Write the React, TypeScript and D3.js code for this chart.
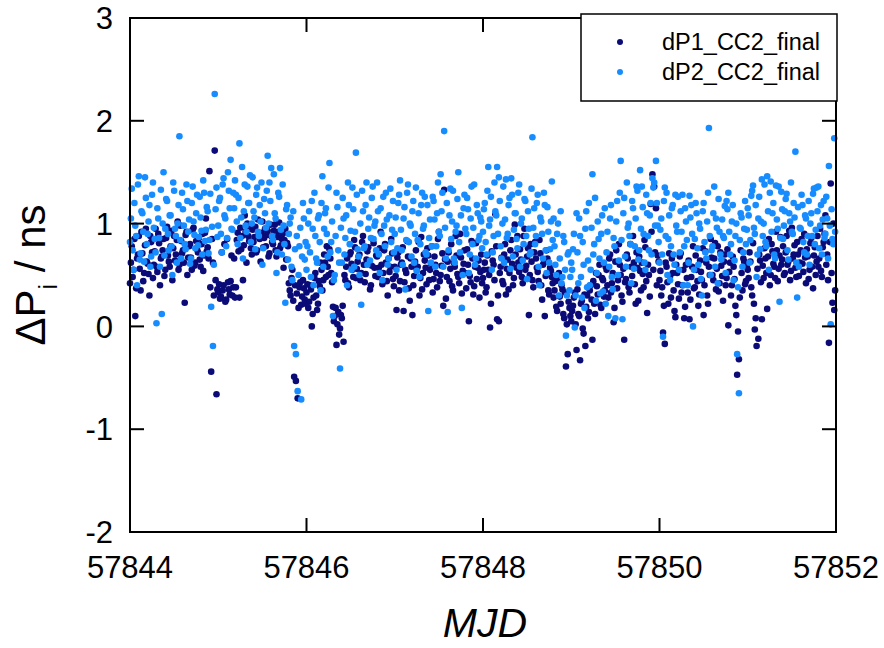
import { useEffect } from "react";
import * as d3 from "d3";

// sampling of both series (days); the *Mid arrays sit half a step later
const MJD_START = 57844;
const STEP = 0.02;

// dP1_CC2_final, one row per day (50 samples)
const dP1 = [
  0.42, 0.78, 0.55, 0.10, 0.66, 0.88, 0.35, 0.71, 0.52, 0.95, 0.61, 0.30, 0.82, 0.47, 0.73, 0.58, 0.90, 0.40, 0.68, 0.85, 0.55, 0.97, 0.63, 0.78, 0.45, 0.88, 0.70, 1.02, 0.60, 0.83, 0.74, 0.23, 0.92, 0.67, 0.80, 0.55, 0.96, 0.62, 0.75, 0.86, 0.58, 0.90, 0.69, 1.05, 0.77, 1.51, -0.44, 0.62, 1.71, -0.66,
  0.33, 0.27, 0.72, 0.40, 0.24, 0.85, 0.36, 0.44, 0.30, 0.66, 0.38, 0.91, 0.28, 0.75, 0.45, 1.08, 0.62, 0.88, 0.95, 0.70, 0.82, 0.97, 0.74, 0.90, 0.63, 1.02, 0.86, 0.78, 0.93, 0.71, 0.88, 0.80, 0.99, 0.68, 0.92, 0.76, 0.85, 0.57, 0.95, 0.81, 0.42, 0.30, 0.55, -0.49, -0.53, -0.70, 0.38, 0.21, 0.45, 0.26,
  0.33, 0.18, 0.40, 0.00, 0.28, 0.52, 0.16, 0.44, 0.62, 0.35, 0.70, 0.48, 0.58, 0.75, 0.52, 0.19, 0.10, -0.18, 0.14, -0.02, 0.08, -0.15, 0.45, 0.66, 0.38, 0.72, 0.55, 0.84, 0.47, 0.63, 0.70, 0.52, 0.88, 0.43, 0.65, 0.77, 0.36, 0.59, 0.81, 0.49, 0.68, 0.57, 0.92, 0.41, 0.74, 0.62, 0.30, 0.53, 0.85, 0.46,
  0.58, 0.16, 0.72, 0.44, 0.62, 0.15, 0.55, 0.83, 0.37, 0.66, 0.11, 0.49, 0.74, 0.58, 0.30, 0.87, 0.52, 0.64, 0.41, 0.69, 0.55, 0.78, 0.46, 0.60, 0.38, 0.92, 0.50, 0.71, 1.33, 0.27, 0.63, 0.44, 0.80, 0.35, 0.58, 0.69, 0.48, 0.90, 0.32, 0.61, 0.52, 0.75, 0.05, 0.43, 0.66, 0.39, 0.81, 0.57, 0.28, 0.70,
  0.47, 0.62, 0.38, 0.55, -0.01, 0.73, 0.60, 1.09, 0.07, 0.05, 0.58, 0.44, 0.70, 0.31, 0.65, 0.52, 0.84, 0.40, 0.99, 0.57, 0.62, 0.75, 0.48, 0.88, 0.55, 0.68, 0.11, 0.80, 0.45, 0.72, 0.66, 0.53, 0.84, 0.40, 0.60, 0.10, 0.74, 0.35, 0.57, 0.48, 0.28, 0.44, 0.15, 0.52, 0.22, 0.36, 0.08, -0.39, -0.27, 0.18,
  0.05, 0.20, 0.33, -0.23, 0.12, -0.33, 0.25, -0.07, -0.19, 0.30, 0.14, 0.40, -0.13, 0.22, 0.52, 0.31, 0.60, 0.18, 0.45, 0.35, 0.55, 0.28, 0.70, 0.42, 0.04, 0.63, 0.37, 0.80, 0.50, 0.24, -0.13, 0.46, 0.66, 0.33, 0.58, 0.88, 0.41, 0.72, 0.25, 0.54, 0.62, 0.38, 0.77, 0.13, 0.50, 1.19, 1.48, 1.36, 1.15, 0.69,
  0.45, 0.30, -0.06, -0.17, 0.58, 0.22, 0.49, 0.66, 0.35, 0.09, 0.52, 0.27, 0.71, 0.40, 0.08, 0.60, 0.33, 0.07, 0.48, 0.78, 0.38, 0.55, 0.20, 0.64, 0.45, 0.11, 0.73, 0.30, 0.58, 0.85, 0.50, 0.66, 0.36, 0.78, 0.42, 0.59, 0.25, 0.70, 0.47, 0.01, 0.62, 0.40, 0.58, 0.20, -0.47, -0.32, 0.74, 0.35, 0.63, 0.44,
  0.55, 0.72, 0.38, 0.81, -0.03, -0.19, -0.12, 0.64, 0.07, 0.47, 0.66, 0.17, 0.85, 0.50, 0.73, 0.58, 0.92, 0.44, 0.69, 0.60, 0.78, 0.52, 0.88, 0.63, 0.45, 0.96, 0.70, 0.57, 0.82, 0.49, 0.74, 0.61, 0.90, 0.42, 0.68, 0.55, 0.86, 0.37, 0.77, 0.63, 0.58, 0.95, 0.48, 0.82, 1.08, 0.70, -0.16, 1.39, 0.23, 0.16,
];

const dP1Mid = [
  0.62, 0.48, 0.85, 0.37, 0.70, 0.56, 0.92, 0.44, 0.79, 0.63, 0.51, 0.88, 0.72, 0.60, 0.95, 0.53, 0.81, 0.66, 0.74, 0.49, 0.86, 0.69, 0.58, 0.93, 0.76, 0.64, 0.84, 0.55, 0.98, 0.71, 0.62, 0.89, 0.50, 0.78, 0.67, 0.94, 0.59, 0.83, 0.72, 0.65, 0.80, 0.54, 0.91, 0.73, 0.66, 0.38, 0.85, 0.30, 0.45, 0.36,
  0.41, 0.29, 0.35, 0.80, 0.26, 0.43, 0.31, 0.69, 0.38, 0.28, 0.84, 0.73, 0.96, 0.88, 0.79, 0.92, 1.00, 0.83, 0.76, 0.94, 0.87, 0.72, 1.04, 0.85, 0.91, 0.77, 0.95, 0.89, 0.68, 0.99, 0.82, 0.93, 0.74, 0.87, 1.01, 0.79, 0.90, 0.84, 0.65, 0.78, 0.35, 0.47, 0.25, 0.40, 0.32, 0.18, 0.43, 0.29, 0.37, 0.22,
  0.41, 0.24, 0.36, 0.12, 0.47, 0.30, 0.22, 0.39, 0.55, 0.45, 0.62, 0.78, 0.50, 0.66, 0.43, 0.05, 0.18, 0.02, -0.08, 0.11, 0.20, 0.50, 0.58, 0.42, 0.70, 0.61, 0.48, 0.77, 0.56, 0.68, 0.45, 0.82, 0.60, 0.51, 0.73, 0.63, 0.40, 0.85, 0.57, 0.69, 0.48, 0.76, 0.60, 0.52, 0.80, 0.44, 0.66, 0.58, 0.71, 0.39,
  0.49, 0.67, 0.35, 0.60, 0.77, 0.43, 0.52, 0.68, 0.25, 0.58, 0.40, 0.63, 0.55, 0.82, 0.47, 0.36, 0.70, 0.57, 0.76, 0.45, 0.61, 0.33, 0.68, 0.52, 0.85, 0.44, 0.59, 0.20, 0.65, 0.48, 0.72, 0.56, 0.39, 0.62, 0.88, 0.51, 0.42, 0.67, 0.54, 0.74, 0.37, 0.60, 0.49, 0.83, 0.31, 0.58, 0.46, 0.64, 0.53, 0.42,
  0.55, 0.33, 0.69, 0.50, 0.22, 0.64, 0.45, 0.78, 0.30, 0.52, 0.67, 0.41, 0.80, 0.56, 0.36, 0.74, 0.61, 0.47, 0.70, 0.88, 0.53, 0.65, 0.42, 0.95, 0.59, 0.76, 0.50, 0.63, 0.38, 0.82, 0.57, 0.44, 0.71, 0.26, 0.62, 0.49, 0.66, 0.31, 0.54, 0.42, 0.35, 0.19, 0.47, 0.29, 0.40, 0.12, 0.33, 0.02, 0.24, 0.10,
  0.15, 0.28, 0.02, 0.36, 0.10, 0.22, -0.02, 0.31, 0.19, 0.08, 0.35, 0.26, 0.44, 0.12, 0.39, 0.50, 0.21, 0.47, 0.29, 0.58, 0.40, 0.66, 0.33, 0.52, 0.18, 0.74, 0.45, 0.60, 0.30, 0.56, 0.43, 0.70, 0.38, 0.80, 0.49, 0.62, 0.22, 0.57, 0.68, 0.35, 0.51, 0.84, 0.44, 0.60, 0.29, 0.92, 0.55, 0.72, 0.40, 0.63,
  0.54, 0.38, 0.20, 0.62, 0.43, 0.71, 0.28, 0.52, 0.15, 0.60, 0.41, 0.68, 0.33, 0.55, 0.19, 0.47, 0.64, 0.26, 0.58, 0.37, 0.69, 0.44, 0.31, 0.53, 0.76, 0.40, 0.62, 0.22, 0.50, 0.67, 0.45, 0.81, 0.56, 0.34, 0.72, 0.49, 0.63, 0.40, 0.75, 0.53, 0.30, 0.68, 0.46, 0.11, -0.05, 0.28, 0.52, 0.66, 0.41, 0.58,
  0.47, 0.63, 0.30, 0.22, 0.08, 0.56, 0.70, 0.43, 0.59, 0.76, 0.52, 0.68, 0.40, 0.80, 0.61, 0.47, 0.74, 0.56, 0.87, 0.65, 0.50, 0.72, 0.60, 0.93, 0.54, 0.66, 0.79, 0.48, 0.70, 0.62, 0.85, 0.53, 0.67, 0.75, 0.46, 0.81, 0.58, 0.69, 0.50, 0.88, 0.66, 0.54, 0.77, 0.90, 0.60, 0.45, 0.82, 0.52, 1.00, 0.35,
];

// dP2_CC2_final, one row per day (50 samples)
const dP2 = [
  0.82, 1.34, 0.55, 0.98, 0.40, 1.46, 0.71, 1.10, 0.63, 1.25, 0.90, 1.18, 0.68, 1.40, 0.85, 0.03, 1.05, 0.58, 0.12, 1.50, 0.95, 1.22, 0.74, 1.08, 0.50, 1.32, 0.88, 1.00, 1.85, 0.66, 1.14, 0.80, 1.38, 0.92, 0.61, 1.20, 1.02, 0.76, 1.28, 0.87, 1.06, 0.70, 1.30, 0.94, 1.12, 0.84, 0.19, -0.19, 2.26, 1.35,
  0.98, 1.25, 0.72, 1.44, 1.05, 0.86, 1.32, 1.62, 0.94, 1.15, 1.28, 0.80, 1.78, 1.06, 0.66, 1.38, 0.92, 1.20, 1.47, 1.00, 1.12, 0.75, 1.35, 0.88, 1.02, 0.60, 1.24, 0.96, 1.66, 1.40, 1.54, 0.84, 1.10, 0.52, 1.30, 1.54, 0.70, 0.98, 0.23, 1.18, 0.90, 1.06, 0.45, -0.19, -0.27, -0.63, 0.78, -0.71, 1.20, 0.65,
  0.55, 1.00, 0.72, 1.22, 0.40, 0.88, 0.62, 1.08, 0.35, 1.46, 0.95, 1.15, 0.68, 1.59, 0.82, 0.10, 0.50, 1.30, 0.74, -0.41, 0.62, 1.05, 0.86, 0.40, 1.18, 0.93, 1.35, 0.58, 1.69, 0.75, 0.50, 0.21, 1.12, 0.78, 1.40, 0.95, 0.64, 1.25, 0.85, 1.02, 1.40, 0.70, 1.15, 0.45, 0.98, 1.30, 0.60, 1.08, 0.82, 1.22,
  0.90, 0.55, 1.20, 1.42, 0.74, 1.05, 0.36, 1.30, 0.82, 0.98, 1.12, 0.62, 1.35, 0.84, 0.48, 1.18, 0.95, 1.26, 0.70, 0.15, 1.04, 0.78, 1.22, 0.58, 1.10, 0.92, 1.48, 1.30, 1.90, 0.66, 0.14, 1.08, 0.85, 1.32, 0.62, 0.98, 1.50, 0.72, 0.18, 1.15, 0.95, 1.25, 0.52, 1.05, 0.80, 1.38, 0.66, 1.10, 0.88, 1.02,
  0.92, 1.20, 0.70, 1.55, 1.04, 0.55, 0.88, 1.12, 1.55, 1.45, 0.78, 1.00, 0.62, 1.43, 0.90, 1.25, 1.44, 0.68, 1.10, 0.85, 1.30, 0.58, 1.05, 0.80, 1.22, 0.46, 0.95, 0.72, 1.84, 1.15, 0.88, 1.28, 0.40, 1.02, 0.66, 1.18, 0.52, 0.92, 0.75, 1.41, 1.05, 0.60, 0.90, 0.30, 1.12, 0.48, 0.82, -0.09, 0.70, 0.35,
  0.62, 0.75, -0.01, 1.10, 0.42, 0.88, 0.28, 0.60, 0.95, 0.38, 1.20, 0.55, 1.48, 0.80, 0.25, 1.02, 0.66, 0.90, 0.34, 1.15, 0.72, 0.10, 1.05, 0.48, 0.86, 0.08, 1.22, 0.64, 1.61, 0.07, 1.25, 0.58, 0.96, 0.88, 0.42, 1.15, 0.78, 1.36, 0.65, 1.52, 1.36, 0.90, 0.55, 1.10, 0.74, 1.20, 1.44, 1.40, 1.61, 0.98,
  0.62, 1.05, -0.10, 1.35, 1.30, 0.85, 0.45, 1.15, 0.70, 1.28, 0.92, 0.55, 1.12, 1.28, 0.78, 1.02, 0.40, 1.27, 1.18, 0.00, 0.85, 1.10, 0.60, 0.95, 0.30, 1.20, 0.72, 1.02, 1.93, 0.50, 0.78, 1.36, 1.05, 0.42, 0.92, 0.65, 0.88, 1.17, 1.22, 1.30, 0.70, 1.02, 0.45, 0.88, -0.27, -0.65, 1.10, 0.58, 0.95, 0.80,
  1.15, 0.62, 1.27, 1.37, 0.90, 0.48, 1.05, 0.75, 1.43, 1.00, 0.82, 1.46, 0.55, 1.41, 1.10, 0.70, 1.37, 0.95, 0.24, 1.31, 0.85, 1.12, 1.29, 0.65, 1.02, 0.92, 1.20, 1.70, 0.28, 0.58, 0.95, 1.18, 0.72, 1.05, 0.88, 0.60, 1.10, 1.29, 0.80, 1.35, 1.36, 0.98, 0.70, 1.22, 0.90, 1.05, 1.56, 0.02, 0.85, 1.83,
];

const dP2Mid = [
  1.05, 0.74, 1.20, 0.88, 1.38, 0.65, 1.12, 0.92, 1.45, 0.80, 1.02, 0.58, 1.28, 0.96, 0.72, 1.15, 0.86, 1.33, 1.00, 0.69, 1.24, 0.90, 1.08, 0.78, 1.40, 0.95, 0.62, 1.18, 0.84, 1.30, 0.98, 0.75, 1.22, 1.04, 0.66, 1.36, 0.89, 1.10, 0.79, 1.26, 0.93, 1.42, 0.83, 1.16, 0.71, 1.29, 0.97, 0.60, 1.14, 0.87,
  1.22, 0.90, 1.38, 1.08, 0.78, 1.50, 1.15, 0.95, 1.30, 1.42, 1.02, 1.25, 0.86, 1.55, 1.12, 0.98, 1.36, 1.20, 0.82, 1.45, 1.06, 1.28, 0.92, 1.18, 1.40, 0.76, 1.10, 1.32, 1.00, 1.22, 0.88, 1.48, 1.05, 0.72, 1.26, 0.94, 1.38, 0.80, 1.14, 0.65, 1.00, 0.58, 1.12, 0.75, 0.88, 0.50, 0.96, 0.68, 1.05, 0.82,
  0.78, 1.12, 0.48, 0.95, 1.30, 0.66, 1.05, 0.82, 1.20, 0.58, 1.10, 0.90, 1.35, 0.72, 1.02, 0.45, 0.88, 1.16, 0.62, 0.96, 1.25, 0.70, 1.08, 1.40, 0.80, 0.55, 1.14, 0.92, 1.28, 0.68, 1.00, 1.32, 0.76, 1.18, 0.60, 1.06, 0.86, 1.36, 0.98, 0.74, 1.12, 0.52, 0.90, 1.26, 0.78, 1.04, 0.66, 1.34, 0.94, 0.72,
  1.06, 0.76, 1.28, 0.94, 0.60, 1.16, 0.84, 1.38, 1.00, 0.68, 1.22, 0.90, 0.54, 1.10, 0.80, 1.30, 0.98, 0.72, 1.18, 0.86, 0.62, 1.26, 1.04, 0.78, 1.40, 0.88, 1.12, 0.58, 0.96, 1.20, 0.74, 1.34, 1.02, 0.66, 0.92, 1.24, 0.82, 1.08, 0.50, 1.28, 0.90, 1.14, 0.70, 1.36, 0.96, 0.60, 1.18, 0.84, 1.06, 0.76,
  1.14, 0.82, 1.32, 0.98, 1.26, 0.72, 1.40, 1.08, 0.90, 1.22, 0.66, 1.36, 1.04, 0.86, 1.18, 0.56, 1.28, 0.94, 1.10, 0.76, 1.38, 1.00, 0.64, 1.24, 0.88, 1.12, 0.70, 1.34, 0.96, 0.80, 1.20, 0.58, 1.06, 0.90, 1.30, 0.74, 1.16, 0.62, 1.02, 0.84, 0.78, 0.50, 1.00, 0.66, 0.42, 0.88, 0.55, 0.30, 0.72, 0.48,
  0.55, 0.90, 0.30, 0.72, 1.05, 0.48, 0.82, 0.18, 1.12, 0.64, 0.40, 0.96, 0.70, 1.25, 0.52, 0.85, 0.32, 1.08, 0.62, 0.22, 0.92, 0.58, 1.18, 0.36, 0.78, 1.02, 0.50, 1.30, 0.84, 1.10, 0.68, 1.40, 1.00, 0.80, 1.22, 0.56, 1.05, 1.32, 0.74, 0.95, 1.16, 0.62, 1.28, 0.88, 1.08, 0.70, 1.35, 0.98, 1.20, 0.82,
  0.94, 0.70, 1.22, 0.88, 0.50, 1.08, 0.78, 1.18, 0.60, 0.98, 1.26, 0.72, 0.92, 0.40, 1.15, 0.84, 0.62, 1.06, 0.90, 0.55, 1.20, 0.76, 1.00, 0.46, 1.12, 0.82, 0.66, 1.30, 0.88, 0.74, 1.10, 0.58, 0.96, 1.24, 0.70, 1.04, 0.86, 0.52, 1.14, 0.92, 0.80, 1.18, 0.64, 1.00, 0.38, 0.84, 1.06, 0.72, 1.22, 0.94,
  1.08, 0.84, 1.32, 0.96, 1.18, 0.70, 1.26, 1.02, 0.88, 1.38, 0.78, 1.12, 1.30, 0.92, 1.20, 0.66, 1.04, 1.36, 0.86, 1.14, 0.98, 1.24, 0.74, 1.10, 1.40, 0.90, 1.06, 0.62, 1.16, 0.96, 1.28, 0.82, 1.08, 0.70, 1.22, 1.00, 0.88, 1.34, 0.94, 1.12, 0.76, 1.18, 1.04, 0.86, 1.26, 0.66, 0.98, 1.14, 0.80, 0.92,
];

const seriesNames = ["dP1_CC2_final", "dP2_CC2_final"];
const seriesColors = ["#0b0b78", "#168cff"];
const xTicks = [57844, 57846, 57848, 57850, 57852];
const yTicks = [-2, -1, 0, 1, 2, 3];

const W = 884;
const H = 648;
const M = { left: 130, right: 836, top: 18, bottom: 532 };
const FONT = "'Liberation Sans', Arial, Helvetica, sans-serif";
const TICK = 14;

export default function App() {
  useEffect(() => {
    document.body.style.margin = "0";
  }, []);

  const x = d3.scaleLinear().domain([57844, 57852]).range([M.left, M.right]);
  const y = d3.scaleLinear().domain([-2, 3]).range([M.bottom, M.top]);

  const toPoints = (vals: number[], offset: number) =>
    vals.map((v, i) => ({ t: MJD_START + offset + i * STEP, v }));

  const series = [
    [...toPoints(dP1, 0), ...toPoints(dP1Mid, STEP / 2)],
    [...toPoints(dP2, 0), ...toPoints(dP2Mid, STEP / 2)],
  ];

  return (
    <svg width={W} height={H} style={{ display: "block", background: "#fff" }} fontFamily={FONT}>
      {/* points */}
      {series.map((pts, s) => (
        <g key={s} fill={seriesColors[s]}>
          {pts.map((p, i) => (
            <circle key={i} cx={x(p.t)} cy={y(p.v)} r={3.3} />
          ))}
        </g>
      ))}

      {/* frame */}
      <rect
        x={M.left}
        y={M.top}
        width={M.right - M.left}
        height={M.bottom - M.top}
        fill="none"
        stroke="#000"
        strokeWidth={2}
      />

      {/* ticks inward, mirrored */}
      <g stroke="#000" strokeWidth={2}>
        {yTicks.map((t) => (
          <g key={t}>
            <line x1={M.left} x2={M.left + TICK} y1={y(t)} y2={y(t)} />
            <line x1={M.right} x2={M.right - TICK} y1={y(t)} y2={y(t)} />
          </g>
        ))}
        {xTicks.map((t) => (
          <g key={t}>
            <line x1={x(t)} x2={x(t)} y1={M.bottom} y2={M.bottom - TICK} />
            <line x1={x(t)} x2={x(t)} y1={M.top} y2={M.top + TICK} />
          </g>
        ))}
      </g>

      {/* tick labels */}
      <g fontSize={31} fill="#000">
        {yTicks.map((t) => (
          <text key={t} x={M.left - 17} y={y(t)} dy="0.36em" textAnchor="end">
            {t}
          </text>
        ))}
        {xTicks.map((t) => (
          <text key={t} x={x(t)} y={578} textAnchor="middle">
            {t}
          </text>
        ))}
      </g>

      {/* axis titles */}
      <text x={485} y={637} fontSize={41} fontStyle="italic" textAnchor="middle">
        MJD
      </text>
      <text
        transform={`translate(45, ${(M.top + M.bottom) / 2}) rotate(-90)`}
        fontSize={42}
        textAnchor="middle"
      >
        ΔP<tspan fontSize={25} dy={12}>i</tspan>
        <tspan dy={-12}> / ns</tspan>
      </text>

      {/* legend */}
      <g>
        <rect x={581} y={14} width={256} height={87} fill="#fff" stroke="#000" strokeWidth={1.5} />
        {seriesNames.map((name, s) => (
          <g key={name}>
            <circle cx={620} cy={42 + s * 30} r={3} fill={seriesColors[s]} />
            <text x={662} y={42 + s * 30} dy="0.36em" fontSize={23.5}>
              {name}
            </text>
          </g>
        ))}
      </g>
    </svg>
  );
}
